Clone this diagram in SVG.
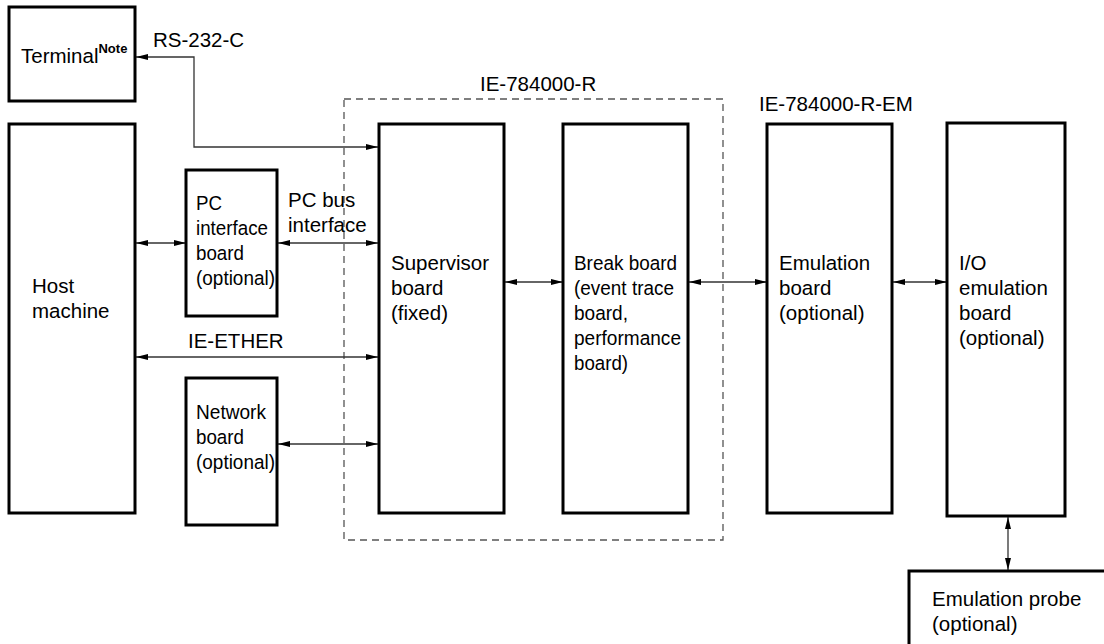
<svg xmlns="http://www.w3.org/2000/svg" width="1104" height="644" viewBox="0 0 1104 644">
<defs>
<marker id="ah" viewBox="0 0 12 6" refX="12" refY="3" markerWidth="12" markerHeight="6" markerUnits="userSpaceOnUse" orient="auto-start-reverse">
<path d="M0,0 L12,3 L0,6 Z" fill="#000"/>
</marker>
<style>
.box{fill:#fff;stroke:#000;stroke-width:3}
.t{font-family:"Liberation Sans",Arial,sans-serif;font-size:20.5px;fill:#000}
.c{fill:none;stroke:#333;stroke-width:1.3;marker-start:url(#ah);marker-end:url(#ah)}
.dash{fill:none;stroke:#555;stroke-width:1.3;stroke-dasharray:7,5}
</style>
</defs>
<rect width="1104" height="644" fill="#fff"/>

<g id="ie784000r">
<rect class="dash" x="344" y="99" width="379" height="441"/>
<text class="t" x="480" y="91">IE-784000-R</text>
</g>
<text class="t" x="759" y="111">IE-784000-R-EM</text>

<g id="connectors">
<path class="c" d="M378,147 H194 V57 H136"/>
<path class="c" d="M136,243 H186"/>
<path class="c" d="M278,243 H378"/>
<path class="c" d="M136,357 H378"/>
<path class="c" d="M278,444 H378"/>
<path class="c" d="M505,282 H563"/>
<path class="c" d="M689,282 H767"/>
<path class="c" d="M893,282 H947"/>
<path class="c" d="M1008,517 V570"/>
<text class="t" x="153" y="47">RS-232-C</text>
<text class="t" x="288" y="207">PC bus</text>
<text class="t" x="288" y="232">interface</text>
<text class="t" x="188" y="348">IE-ETHER</text>
</g>

<g id="terminal">
<rect class="box" x="9" y="7" width="126" height="94"/>
<text class="t" x="21" y="63">Terminal<tspan font-size="13" font-weight="bold" dy="-10">Note</tspan></text>
</g>

<g id="host">
<rect class="box" x="9" y="124" width="126" height="389"/>
<text class="t" x="32" y="293">Host</text>
<text class="t" x="32" y="318">machine</text>
</g>

<g id="pcif">
<rect class="box" x="186" y="170" width="91" height="146"/>
<text class="t" x="196" y="210" textLength="26" lengthAdjust="spacingAndGlyphs">PC</text>
<text class="t" x="196" y="235" textLength="72" lengthAdjust="spacingAndGlyphs">interface</text>
<text class="t" x="196" y="260" textLength="48" lengthAdjust="spacingAndGlyphs">board</text>
<text class="t" x="196" y="285" textLength="79" lengthAdjust="spacingAndGlyphs">(optional)</text>
</g>

<g id="network">
<rect class="box" x="186" y="378" width="91" height="147"/>
<text class="t" x="196" y="419" textLength="70" lengthAdjust="spacingAndGlyphs">Network</text>
<text class="t" x="196" y="444" textLength="48" lengthAdjust="spacingAndGlyphs">board</text>
<text class="t" x="196" y="469" textLength="79" lengthAdjust="spacingAndGlyphs">(optional)</text>
</g>

<g id="supervisor">
<rect class="box" x="379" y="124" width="125" height="389"/>
<text class="t" x="391" y="270">Supervisor</text>
<text class="t" x="391" y="295">board</text>
<text class="t" x="391" y="320">(fixed)</text>
</g>

<g id="break">
<rect class="box" x="563" y="124" width="125" height="389"/>
<text class="t" x="574" y="270" textLength="103" lengthAdjust="spacingAndGlyphs">Break board</text>
<text class="t" x="574" y="295" textLength="100" lengthAdjust="spacingAndGlyphs">(event trace</text>
<text class="t" x="574" y="320" textLength="54" lengthAdjust="spacingAndGlyphs">board,</text>
<text class="t" x="574" y="345" textLength="107" lengthAdjust="spacingAndGlyphs">performance</text>
<text class="t" x="574" y="370" textLength="54" lengthAdjust="spacingAndGlyphs">board)</text>
</g>

<g id="emulation">
<rect class="box" x="767" y="124" width="125" height="389"/>
<text class="t" x="779" y="270">Emulation</text>
<text class="t" x="779" y="295">board</text>
<text class="t" x="779" y="320">(optional)</text>
</g>

<g id="io">
<rect class="box" x="947" y="123" width="118" height="393"/>
<text class="t" x="959" y="270">I/O</text>
<text class="t" x="959" y="295">emulation</text>
<text class="t" x="959" y="320">board</text>
<text class="t" x="959" y="345">(optional)</text>
</g>

<g id="probe">
<rect class="box" x="909" y="571" width="200" height="80"/>
<text class="t" x="932" y="606">Emulation probe</text>
<text class="t" x="932" y="631">(optional)</text>
</g>
</svg>
